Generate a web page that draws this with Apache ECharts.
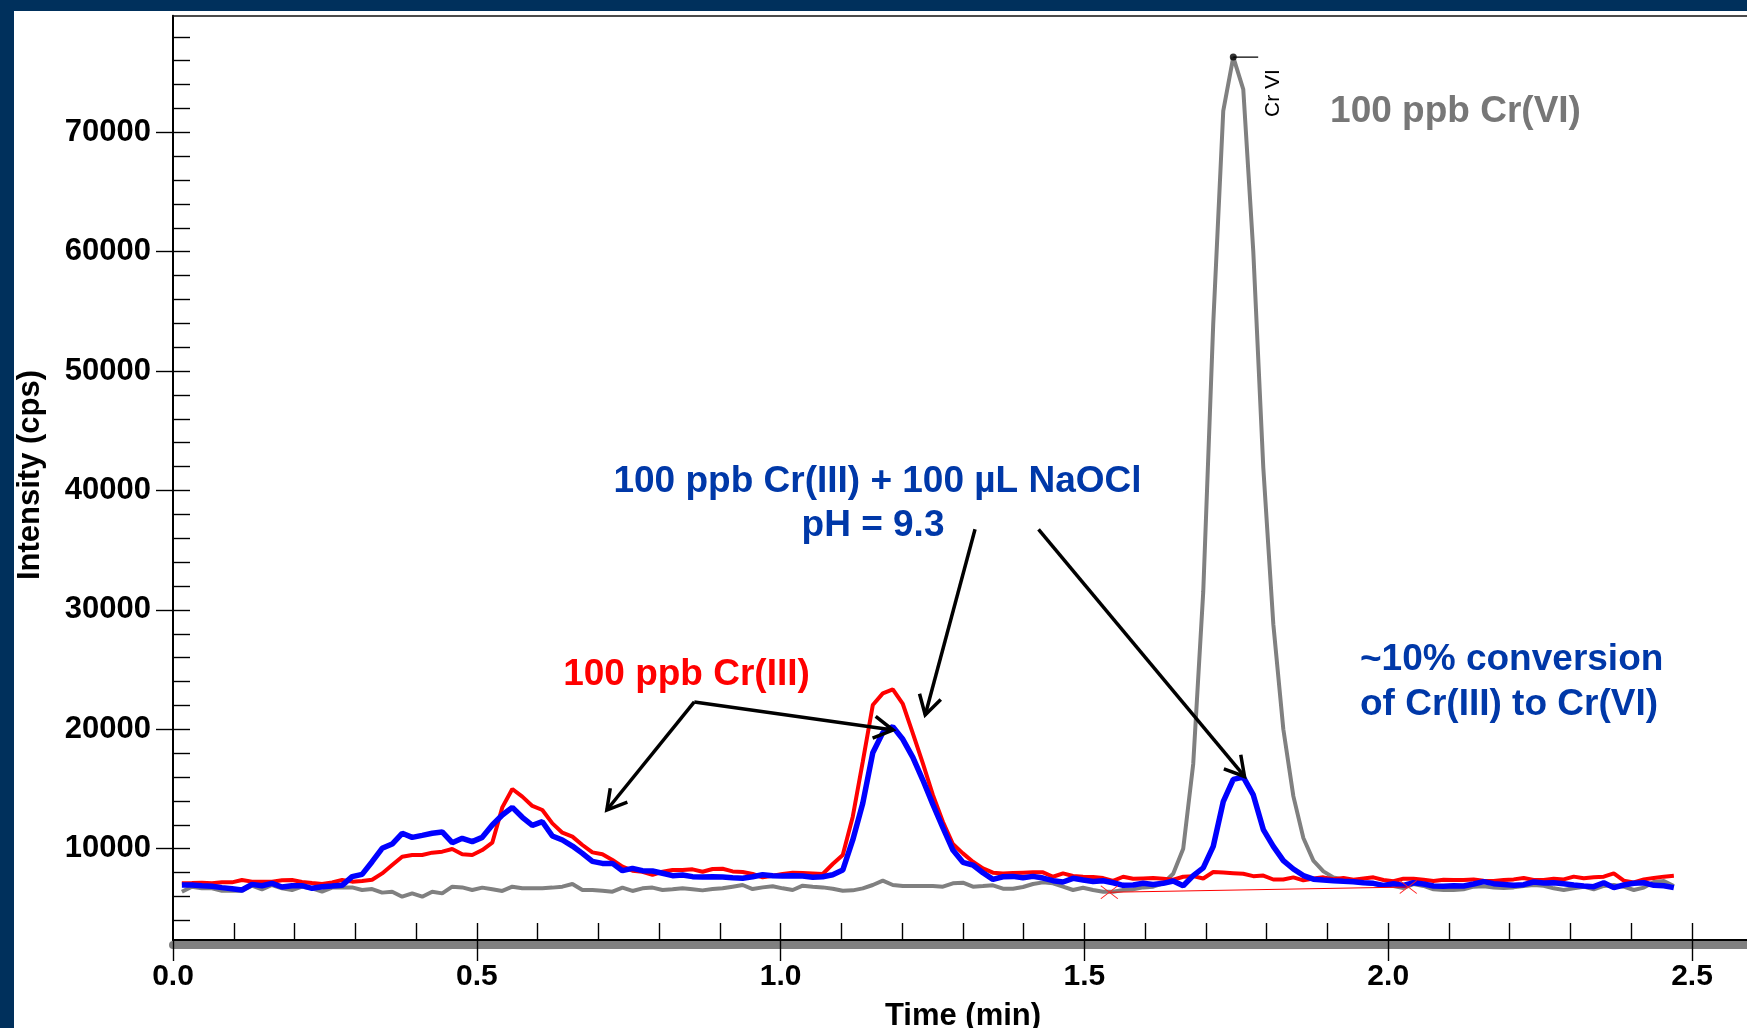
<!DOCTYPE html>
<html><head><meta charset="utf-8">
<script src="https://cdn.jsdelivr.net/npm/echarts@6/dist/echarts.min.js"></script>
<style>html,body{margin:0;padding:0;background:#fff;overflow:hidden}#c{width:1747px;height:1028px}</style>
</head><body><div id="c"></div>
<script>
// sampling grid of the chromatogram (minutes)
const T0 = 0.0146, DT = 0.01648;

const red = [7100,7120,7150,7100,7180,7180,7380,7240,7240,7240,
 7350,7380,7210,7120,7040,7180,7380,7240,7290,7400,
 7930,8630,9330,9470,9470,9670,9750,9970,9530,9470,
 9890,10500,13460,15000,14360,13580,13240,12120,11340,11010,
 10310,9690,9530,9050,8490,8160,8070,7800,8070,8210,
 8210,8270,8070,8300,8320,8100,8050,7880,7600,7740,
 7880,7990,7960,7930,7880,8720,9470,12680,17290,22030,
 23010,23350,22120,19660,17150,14500,12260,10390,9610,8910,
 8350,7990,7930,7960,7990,8020,8020,7650,7930,7710,
 7650,7630,7540,7300,7650,7480,7510,7540,7480,7400,
 7650,7700,7500,8050,8000,7950,7900,7700,7750,7420,
 7420,7600,7350,7500,7600,7450,7550,7400,7500,7600,
 7380,7270,7490,7490,7400,7290,7400,7380,7380,7430,
 7320,7290,7380,7430,7550,7380,7380,7490,7430,7660,
 7520,7600,7660,7940,7320,7180,7430,7550,7660,7740];

const blue = [6960,6960,6900,6850,6740,6650,6540,7010,6900,7100,
 6790,6900,6900,6680,6820,6870,6930,7660,7850,8910,
 10030,10390,11290,10950,11120,11290,11400,10500,10870,10590,
 10950,11980,12820,13460,12630,11960,12260,11060,10730,10220,
 9610,8940,8770,8770,8160,8350,8160,8130,7940,7740,
 7800,7660,7630,7650,7630,7570,7520,7650,7820,7740,
 7710,7740,7710,7600,7650,7820,8210,10730,13800,18040,
 19720,20220,19160,17650,15750,13710,11760,9890,8860,8630,
 7990,7430,7650,7680,7570,7680,7540,7320,7210,7520,
 7380,7260,7320,7150,6930,6960,7100,7010,7100,7290,
 6900,7750,8400,10200,13950,15800,16000,14500,11600,10200,
 9000,8300,7750,7450,7380,7320,7270,7240,7150,7100,
 6930,7070,6930,7150,7040,6880,6850,6900,6880,7040,
 7240,7070,7010,6930,6990,7210,7130,7150,7070,6960,
 6880,6820,7150,6740,6960,7100,7150,6930,6900,6740];

const gray = [6400,6820,6680,6680,6480,6480,6480,6900,6600,6960,
 6680,6540,6820,6680,6400,6740,6740,6760,6540,6620,
 6320,6400,5980,6260,5980,6400,6260,6820,6760,6540,
 6740,6600,6460,6820,6680,6680,6680,6740,6820,7040,
 6540,6540,6480,6400,6740,6460,6680,6740,6540,6600,
 6680,6600,6510,6620,6680,6820,6960,6620,6760,6850,
 6680,6540,6900,6820,6760,6650,6480,6510,6680,6960,
 7320,6960,6870,6870,6870,6870,6820,7100,7150,6820,
 6870,6930,6650,6650,6790,7040,7180,7100,6820,6540,
 6730,6540,6400,6400,6540,6590,6760,6820,7100,7900,
 10000,17100,31500,54000,71800,76300,73600,60000,41900,28800,
 20000,14400,10900,9000,8100,7600,7400,7250,7150,7050,
 6950,6880,6710,7040,6880,6600,6540,6540,6600,6820,
 6850,6740,6710,6760,6880,6960,6900,6680,6540,6680,
 6820,6600,6880,6960,6820,6540,6740,7210,7290,6880];

const xMajorTicks = [0, 0.5, 1.0, 1.5, 2.0, 2.5];
const xMinorTicks = [0.1,0.2,0.3,0.4,0.5,0.6,0.7,0.8,0.9,1.0,1.1,1.2,1.3,1.4,1.5,1.6,1.7,1.8,1.9,2.0,2.1,2.2,2.3,2.4,2.5];
const yMajorTicks = [10000,20000,30000,40000,50000,60000,70000];
const yMinorTicks = [4000,6000,8000,10000,12000,14000,16000,18000,20000,22000,24000,26000,28000,30000,32000,34000,36000,38000,40000,42000,44000,46000,48000,50000,52000,54000,56000,58000,60000,62000,64000,66000,68000,70000,72000,74000,76000,78000];

// integration baseline of the Cr VI peak (red trace) and peak apex marker
const baselinePts = [[1.541, 6350], [2.033, 6790]];
const peakPt = [1.745, 76300];
const peakFlag = [[1.745, 76300], [1.786, 76300]];

// annotation arrows: [start, tip] in data coordinates
const arrows = [
  [[0.858, 22290], [0.714, 13240]],
  [[0.858, 22290], [1.185, 19940]],
  [[1.320, 36750], [1.238, 21200]],
  [[1.4245, 36750], [1.7635, 16050]]
];

const XMIN = 0, XMAX = 2.5905, YMIN = 2353, YMAX = 79765;
const FF = '"Liberation Sans", Arial, Helvetica, sans-serif';

const times = red.map((_, i) => +(T0 + i * DT).toFixed(5));
const pairs = arr => arr.map((v, i) => [times[i], v]);

const chart = echarts.init(document.getElementById('c'), null, {renderer: 'canvas'});

const axisBase = {type: 'value', min: XMIN, max: XMAX, splitLine: {show: false}};
const yBase = {type: 'value', min: YMIN, max: YMAX, splitLine: {show: false}};
const tickStyle = {color: '#000', width: 1.4};

const option = {
  animation: false,
  backgroundColor: '#ffffff',
  grid: {left: 173, top: 15.7, right: 0, bottom: 88, containLabel: false, outerBoundsMode: 'none'},
  xAxis: [
    Object.assign({}, axisBase, {position: 'bottom', z: 5,
      axisLine: {show: true, lineStyle: {color: '#000', width: 2}},
      axisTick: {show: true, inside: true, length: 17, customValues: xMinorTicks, lineStyle: tickStyle},
      axisLabel: {show: false}}),
    Object.assign({}, axisBase, {position: 'bottom', z: 6,
      axisLine: {show: false},
      axisTick: {show: true, inside: false, length: 21, customValues: xMajorTicks, lineStyle: tickStyle},
      axisLabel: {show: true, customValues: xMajorTicks, formatter: v => Number(v).toFixed(1), margin: 22,
        fontSize: 30, fontWeight: 'bold', color: '#000', fontFamily: FF}}),
    Object.assign({}, axisBase, {position: 'bottom', offset: 5, z: 1,
      axisLine: {show: true, lineStyle: {color: '#808080', width: 8}},
      axisTick: {show: false}, axisLabel: {show: false}}),
    Object.assign({}, axisBase, {position: 'top', z: 5,
      axisLine: {show: true, lineStyle: {color: '#111', width: 1.6}},
      axisTick: {show: false}, axisLabel: {show: false}})
  ],
  yAxis: [
    Object.assign({}, yBase, {position: 'left', z: 5,
      axisLine: {show: true, lineStyle: {color: '#000', width: 2}},
      axisTick: {show: true, inside: true, length: 17, customValues: yMinorTicks, lineStyle: tickStyle},
      axisLabel: {show: false}}),
    Object.assign({}, yBase, {position: 'left', z: 6,
      axisLine: {show: false},
      axisTick: {show: true, inside: false, length: 17, customValues: yMajorTicks, lineStyle: tickStyle},
      axisLabel: {show: true, customValues: yMajorTicks, margin: 22, formatter: v => String(Math.round(v)),
        fontSize: 31, fontWeight: 'bold', color: '#000', fontFamily: FF}})
  ],
  series: [
    {name: '100 ppb Cr(VI)', type: 'line', data: pairs(gray), symbol: 'none', z: 2,
      lineStyle: {color: '#808080', width: 4}, itemStyle: {color: '#808080'}},
    {name: '100 ppb Cr(III)', type: 'line', data: pairs(red), symbol: 'none', z: 3,
      lineStyle: {color: '#ff0000', width: 4}, itemStyle: {color: '#ff0000'}},
    {name: '100 ppb Cr(III) + NaOCl', type: 'line', data: pairs(blue), symbol: 'none', z: 4,
      lineStyle: {color: '#0000ff', width: 5.5}, itemStyle: {color: '#0000ff'}},
    {name: 'baseline', type: 'line', data: baselinePts, z: 5,
      symbol: 'path://M0,0L17,13M17,0L0,13', symbolSize: [17, 13], showSymbol: true,
      lineStyle: {color: '#ff0000', width: 1},
      itemStyle: {color: 'rgba(0,0,0,0)', borderColor: '#ff2020', borderWidth: 1}},
    {name: 'apexFlag', type: 'line', data: peakFlag, symbol: 'none', z: 6,
      lineStyle: {color: '#000', width: 1.3}},
    {name: 'apex', type: 'scatter', data: [peakPt], symbol: 'circle', symbolSize: 7, z: 7,
      itemStyle: {color: '#000'}}
  ]
};
chart.setOption(option);

const px = p => chart.convertToPixel({seriesIndex: 0}, p);
const DY = 4.5;
const AF = 'bold 37px ' + FF;
const g = [
  {type: 'rect', shape: {x: 0, y: 0, width: 1747, height: 11}, style: {fill: '#00305c'}, z: 100},
  {type: 'rect', shape: {x: 0, y: 0, width: 14, height: 1028}, style: {fill: '#00305c'}, z: 100},
  {type: 'text', x: 26 + DY, y: 475, rotation: Math.PI / 2, z: 50,
    style: {text: 'Intensity (cps)', font: 'bold 31px ' + FF, fill: '#000', align: 'center', verticalAlign: 'middle'}},
  {type: 'text', x: 963, y: 1011.5 + DY, z: 50,
    style: {text: 'Time (min)', font: 'bold 31px ' + FF, fill: '#000', align: 'center', verticalAlign: 'middle'}},
  {type: 'text', x: 1270 + 3, y: 93, rotation: Math.PI / 2, z: 50,
    style: {text: 'Cr VI', font: '21px ' + FF, fill: '#000', align: 'center', verticalAlign: 'middle'}},
  {type: 'text', x: 1455.5, y: 107 + DY, z: 50,
    style: {text: '100 ppb Cr(VI)', font: AF, fill: '#777777', align: 'center', verticalAlign: 'middle'}},
  {type: 'text', x: 686.5, y: 670 + DY, z: 50,
    style: {text: '100 ppb Cr(III)', font: AF, fill: '#ff0000', align: 'center', verticalAlign: 'middle'}},
  {type: 'text', x: 877.5, y: 477 + DY, z: 50,
    style: {text: '100 ppb Cr(III) + 100 µL NaOCl', font: AF, fill: '#0038a8', align: 'center', verticalAlign: 'middle'}},
  {type: 'text', x: 873, y: 521.5 + DY, z: 50,
    style: {text: 'pH = 9.3', font: AF, fill: '#0038a8', align: 'center', verticalAlign: 'middle'}},
  {type: 'text', x: 1360, y: 655 + DY, z: 50,
    style: {text: '~10% conversion', font: AF, fill: '#0038a8', align: 'left', verticalAlign: 'middle'}},
  {type: 'text', x: 1360, y: 700 + DY, z: 50,
    style: {text: 'of Cr(III) to Cr(VI)', font: AF, fill: '#0038a8', align: 'left', verticalAlign: 'middle'}}
];
arrows.forEach(([s, e]) => {
  const a = px(s), b = px(e);
  const ang = Math.atan2(a[1] - b[1], a[0] - b[0]);
  const L = 22, h = 30 * Math.PI / 180;
  const p1 = [b[0] + L * Math.cos(ang + h), b[1] + L * Math.sin(ang + h)];
  const p2 = [b[0] + L * Math.cos(ang - h), b[1] + L * Math.sin(ang - h)];
  g.push({type: 'line', z: 60, shape: {x1: a[0], y1: a[1], x2: b[0], y2: b[1]}, style: {stroke: '#000', lineWidth: 3.5}});
  g.push({type: 'polyline', z: 60, shape: {points: [p1, b, p2]}, style: {stroke: '#000', lineWidth: 3.5, fill: null, lineJoin: 'miter'}});
});
chart.setOption({graphic: {elements: g}});
</script>
</body></html>
